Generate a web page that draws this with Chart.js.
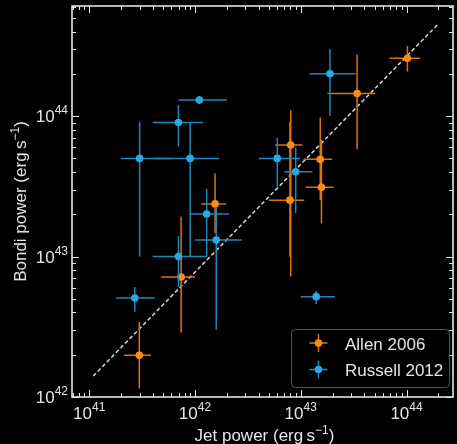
<!DOCTYPE html>
<html>
<head>
<meta charset="utf-8">
<script src="https://cdn.jsdelivr.net/npm/chart.js@4"></script>
<style>
html,body{margin:0;padding:0;background:#000}
canvas{display:block}
</style>
</head>
<body>
<canvas id="c" width="457" height="444"></canvas>
<script>
// Allen 2006 (orange) - value plus the ends of each error bar
var allenX   = [1.55e42, 7.4e41, 2.98e41, 1.02e44, 3.41e43, 8.04e42, 7.9e42, 1.53e43, 1.57e43]
var allenY   = [2.37e43, 7.15e42, 1.98e42, 2.58e44, 1.45e44, 6.22e43, 2.52e43, 4.92e43, 3.11e43]
var allenXLo = [1.15e42, 4.8e41, 2.13e41, 6.9e43, 1.79e43, 5.74e42, 5.0e42, 1.06e43, 1.11e43]
var allenXHi = [1.96e42, 1.0e42, 3.84e41, 1.35e44, 5.08e43, 1.04e43, 1.08e43, 1.98e43, 2.05e43]
var allenYLo = [1.47e43, 2.87e42, 1.15e42, 2.08e44, 5.8e43, 7.2e42, 1.0e43, 2.52e43, 1.72e43]
var allenYHi = [3.9e43, 1.92e43, 3.42e42, 3.16e44, 2.75e44, 1.1e44, 9.1e43, 9.8e43, 6.75e43]

// Russell 2012 (blue)
var russX   = [1.10e42, 6.98e41, 3.0e41, 9.0e41, 6.98e41, 2.70e41, 1.29e42, 1.59e42, 1.89e43, 6.0e42, 8.96e42, 1.4e43]
var russY   = [1.30e44, 9.0e43, 5.0e43, 5.0e43, 1.0e43, 5.07e42, 2.01e43, 1.31e43, 2.0e44, 5.0e43, 4.02e43, 5.18e42]
var russXLo = [6.98e41, 3.98e41, 2.0e41, 4.0e41, 3.98e41, 1.80e41, 9.0e41, 1.0e42, 1.21e43, 4.01e42, 7.0e42, 1.0e43]
var russXHi = [2.01e42, 1.20e42, 6.0e41, 1.69e42, 1.28e42, 4.18e41, 2.10e42, 2.77e42, 3.30e43, 9.87e42, 1.29e43, 2.1e43]
var russYLo = [1.22e44, 6.04e43, 1.0e43, 1.0e43, 6.09e42, 4.05e42, 1.0e43, 3.03e42, 1.0e44, 3.14e43, 2.03e43, 4.6e42]
var russYHi = [1.39e44, 1.20e44, 9.06e43, 9.06e43, 1.40e43, 6.07e42, 3.03e43, 2.26e43, 3.0e44, 7.0e43, 6.0e43, 5.7e42]

// dashed relation
var fitX = [1.09e41, 2.02e44]
var fitY = [1.41e42, 4.57e44]

var xTickExp = [41, 42, 43, 44]
var yTickExp = [42, 43, 44]

var seriesNames = ['Allen 2006', 'Russell 2012']

var ORANGE = '#ff8a16'
var ORANGE_BAR = '#d9730f'
var BLUE = '#2aa8e2'
var BLUE_BAR = '#1c88bb'
var FG = '#e4e4e4'
var FONT = '"Liberation Sans", Arial, sans-serif'

function pts(xs, ys){
    var out = []
    for(var i=0;i<xs.length;i++) out.push({x:xs[i], y:ys[i]})
    return out
}

//draws pieces of text one after the other, [text, size, raise]
function richWidth(ctx, parts){
    var w = 0
    for(var i=0;i<parts.length;i++){
        ctx.font = parts[i][1]+'px '+FONT
        w += ctx.measureText(parts[i][0]).width
    }
    return w
}
function drawRich(ctx, parts, x, y){
    for(var i=0;i<parts.length;i++){
        ctx.font = parts[i][1]+'px '+FONT
        ctx.fillText(parts[i][0], x, y-(parts[i][2]||0))
        x += ctx.measureText(parts[i][0]).width
    }
}
function powParts(e){
    return [['10',17,0],[String(e),12,8]]
}

var errorBars = {
    id:'errorBars',
    beforeDatasetDraw(chart, args){
        var ds = chart.data.datasets[args.index]
        if(!ds.err) return
        var ctx = chart.ctx
        var xs = chart.scales.x, ys = chart.scales.y
        ctx.save()
        ctx.strokeStyle = ds.barColor
        ctx.lineWidth = 1.5
        for(var i=0;i<ds.data.length;i++){
            var px = xs.getPixelForValue(ds.data[i].x)
            var py = ys.getPixelForValue(ds.data[i].y)
            ctx.beginPath()
            ctx.moveTo(xs.getPixelForValue(ds.err.xlo[i]), py)
            ctx.lineTo(xs.getPixelForValue(ds.err.xhi[i]), py)
            ctx.moveTo(px, ys.getPixelForValue(ds.err.ylo[i]))
            ctx.lineTo(px, ys.getPixelForValue(ds.err.yhi[i]))
            ctx.stroke()
        }
        ctx.restore()
    }
}

var frame = {
    id:'frame',
    afterDraw(chart){
        var ctx = chart.ctx
        var a = chart.chartArea
        var xs = chart.scales.x, ys = chart.scales.y
        ctx.save()
        ctx.strokeStyle = FG
        ctx.lineWidth = 1
        //minor + major ticks, all four sides, pointing inward
        ctx.beginPath()
        for(var n=40;n<=45;n++){
            for(var k=1;k<=9;k++){
                var v = k*Math.pow(10,n)
                var len = k==1 ? 7 : 4
                if(v>=xs.min && v<=xs.max){
                    var px = Math.round(xs.getPixelForValue(v))+0.5
                    ctx.moveTo(px, a.bottom); ctx.lineTo(px, a.bottom-len)
                    ctx.moveTo(px, a.top); ctx.lineTo(px, a.top+len)
                }
                if(v>=ys.min && v<=ys.max){
                    var py = Math.round(ys.getPixelForValue(v))+0.5
                    ctx.moveTo(a.left, py); ctx.lineTo(a.left+len, py)
                    ctx.moveTo(a.right, py); ctx.lineTo(a.right-len, py)
                }
            }
        }
        ctx.stroke()
        ctx.lineWidth = 1.6
        ctx.strokeRect(a.left, a.top, a.right-a.left, a.bottom-a.top)

        //tick labels
        ctx.fillStyle = FG
        ctx.textBaseline = 'alphabetic'
        ctx.textAlign = 'left'
        for(var i=0;i<xTickExp.length;i++){
            var p = powParts(xTickExp[i])
            var cx = xs.getPixelForValue(Math.pow(10,xTickExp[i]))
            drawRich(ctx, p, cx-richWidth(ctx,p)/2, 418.5)
        }
        for(var i=0;i<yTickExp.length;i++){
            var p = powParts(yTickExp[i])
            var cy = ys.getPixelForValue(Math.pow(10,yTickExp[i]))
            drawRich(ctx, p, a.left-4-richWidth(ctx,p), cy+6)
        }

        //axis titles
        var xt = [['Jet power (erg\u2009s',17,0],['\u22121',12,7],[')',17,0]]
        drawRich(ctx, xt, (a.left+a.right)/2+2-richWidth(ctx,xt)/2, 440.5)
        var yt = [['Bondi power (erg\u2009s',17,0],['\u22121',12,7],[')',17,0]]
        ctx.save()
        ctx.translate(25.5, (a.top+a.bottom)/2)
        ctx.rotate(-Math.PI/2)
        drawRich(ctx, yt, -richWidth(ctx,yt)/2, 0)
        ctx.restore()

        //legend
        var lx = 291.5, ly = 329.5, lw = 158, lh = 58
        ctx.beginPath()
        ctx.roundRect(lx, ly, lw, lh, 4)
        ctx.fillStyle = 'rgba(0,0,0,0.8)'
        ctx.fill()
        ctx.strokeStyle = '#555'
        ctx.lineWidth = 1
        ctx.stroke()
        var cols = [[ORANGE, ORANGE_BAR],[BLUE, BLUE_BAR]]
        for(var i=0;i<seriesNames.length;i++){
            var my = 343 + i*26.5
            var mx = 318.5
            ctx.strokeStyle = cols[i][1]
            ctx.lineWidth = 1.5
            ctx.beginPath()
            ctx.moveTo(mx-9, my); ctx.lineTo(mx+9, my)
            ctx.moveTo(mx, my-9); ctx.lineTo(mx, my+9)
            ctx.stroke()
            ctx.fillStyle = cols[i][0]
            ctx.beginPath()
            ctx.arc(mx, my, 3.8, 0, Math.PI*2)
            ctx.fill()
            ctx.fillStyle = FG
            ctx.font = '17px '+FONT
            ctx.fillText(seriesNames[i], 345, my+6.5)
        }
        ctx.restore()
    }
}

var ctx = document.getElementById('c')
var char = new Chart(ctx, {
    type:'scatter',
    data:{
        datasets:[
            {
                label:seriesNames[1],
                data:pts(russX, russY),
                err:{xlo:russXLo, xhi:russXHi, ylo:russYLo, yhi:russYHi},
                barColor:BLUE_BAR,
                pointRadius:3.8,
                pointBackgroundColor:BLUE,
                pointBorderWidth:0,
                order:0
            },
            {
                label:seriesNames[0],
                data:pts(allenX, allenY),
                err:{xlo:allenXLo, xhi:allenXHi, ylo:allenYLo, yhi:allenYHi},
                barColor:ORANGE_BAR,
                pointRadius:3.8,
                pointBackgroundColor:ORANGE,
                pointBorderWidth:0,
                order:1
            },
            {
                label:'fit',
                data:pts(fitX, fitY),
                showLine:true,
                pointRadius:0,
                borderColor:'#d8d8d8',
                borderWidth:1.5,
                borderDash:[4,2.5],
                order:2
            }
        ]
    },
    options:{
        responsive:false,
        animation:false,
        devicePixelRatio:1,
        layout:{padding:{left:72, right:1, top:6, bottom:47}},
        scales:{
            x:{type:'logarithmic', min:6.88e40, max:2.75e44, display:false},
            y:{type:'logarithmic', min:1e42, max:6.08e44, display:false}
        },
        plugins:{
            legend:{display:false},
            tooltip:{enabled:false}
        }
    },
    plugins:[errorBars, frame]
})
</script>
</body>
</html>
